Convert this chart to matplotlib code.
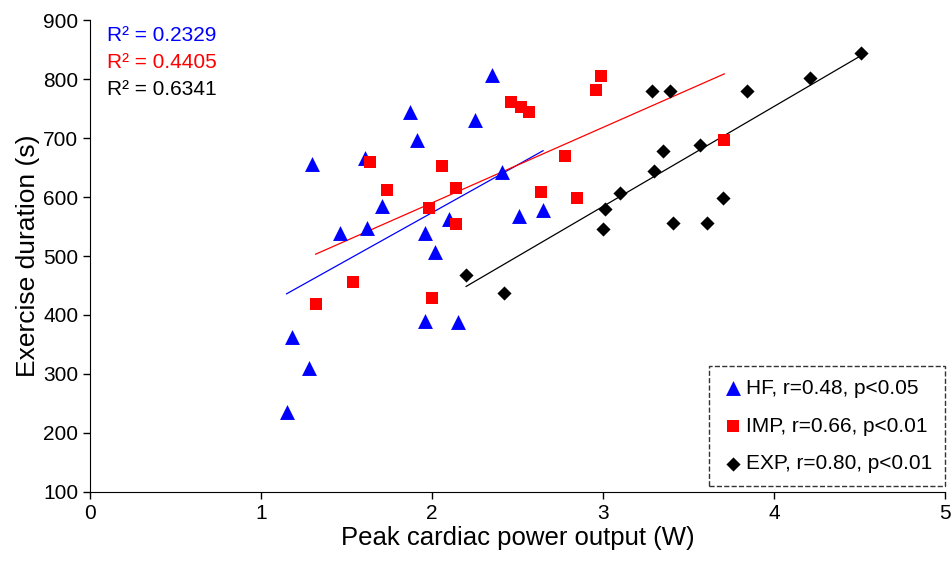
import numpy as np
import matplotlib
matplotlib.use('Agg')
import matplotlib.pyplot as plt

plt.rcParams['font.family'] = ['Liberation Sans', 'DejaVu Sans']

# HF group
hf_x = [1.15, 1.18, 1.28, 1.30, 1.46, 1.61, 1.62, 1.71, 1.87, 1.91,
        1.96, 1.96, 2.02, 2.10, 2.15, 2.25, 2.35, 2.41, 2.51, 2.65]
hf_y = [236, 363, 310, 656, 539, 666, 547, 585, 744, 697,
        539, 390, 507, 563, 388, 730, 807, 642, 568, 578]

# IMP group
imp_x = [1.32, 1.54, 1.64, 1.74, 1.98, 2.00, 2.06, 2.14, 2.14, 2.46,
         2.52, 2.57, 2.64, 2.78, 2.85, 2.96, 2.99, 3.71]
imp_y = [419, 456, 659, 612, 581, 429, 652, 615, 554, 761,
         753, 744, 608, 669, 598, 781, 805, 697]

# EXP group
exp_x = [2.20, 2.42, 3.00, 3.01, 3.10, 3.29, 3.30, 3.35, 3.39, 3.41,
         3.57, 3.61, 3.70, 3.84, 4.21, 4.51]
exp_y = [468, 437, 546, 580, 607, 780, 644, 678, 780, 556,
         688, 556, 598, 780, 802, 844]

labels = ['HF, r=0.48, p<0.05', 'IMP, r=0.66, p<0.01', 'EXP, r=0.80, p<0.01']
r2_text = ['0.2329', '0.4405', '0.6341']

fig = plt.figure(figsize=(9.52, 5.67), dpi=100)
ax = fig.add_axes([0.0945, 0.1323, 0.898, 0.8324])

groups = [
    (hf_x, hf_y, '^', 115, 'blue'),
    (imp_x, imp_y, 's', 80, 'red'),
    (exp_x, exp_y, 'D', 52, 'black'),
]

for (x, y, m, s, c), lab in zip(groups, labels):
    ax.scatter(x, y, marker=m, s=s, color=c, label=lab, zorder=3, linewidths=0)
    # linear trendline over the data range
    k, b = np.polyfit(x, y, 1)
    xs = np.array([min(x), max(x)])
    ax.plot(xs, k * xs + b, color=c, lw=0.9, zorder=2)

for i, (txt, c) in enumerate(zip(r2_text, ['blue', 'red', 'black'])):
    ax.text(0.02, 0.967 - i * 0.057, 'R² = ' + txt, color=c, fontsize=15,
            transform=ax.transAxes, va='center', ha='left')

ax.set_xlim(0, 5)
ax.set_ylim(100, 900)
ax.set_xticks([0, 1, 2, 3, 4, 5])
ax.set_yticks(range(100, 901, 100))
ax.tick_params(labelsize=15, direction='out', length=5, width=1)
ax.spines['top'].set_visible(False)
ax.spines['right'].set_visible(False)

ax.set_xlabel('Peak cardiac power output (W)', fontsize=18.5, labelpad=2)
ax.set_ylabel('Exercise duration (s)', fontsize=19, labelpad=2)

leg = ax.legend(loc='lower right', fontsize=15, frameon=True, fancybox=False,
                handletextpad=0.1, handlelength=1.1, borderpad=0.6,
                labelspacing=0.9, borderaxespad=0,
                bbox_to_anchor=(1.0, 0.013))
leg.get_frame().set_edgecolor('black')
leg.get_frame().set_linestyle('--')
leg.get_frame().set_linewidth(1)

fig.savefig('out.png', dpi=100)
